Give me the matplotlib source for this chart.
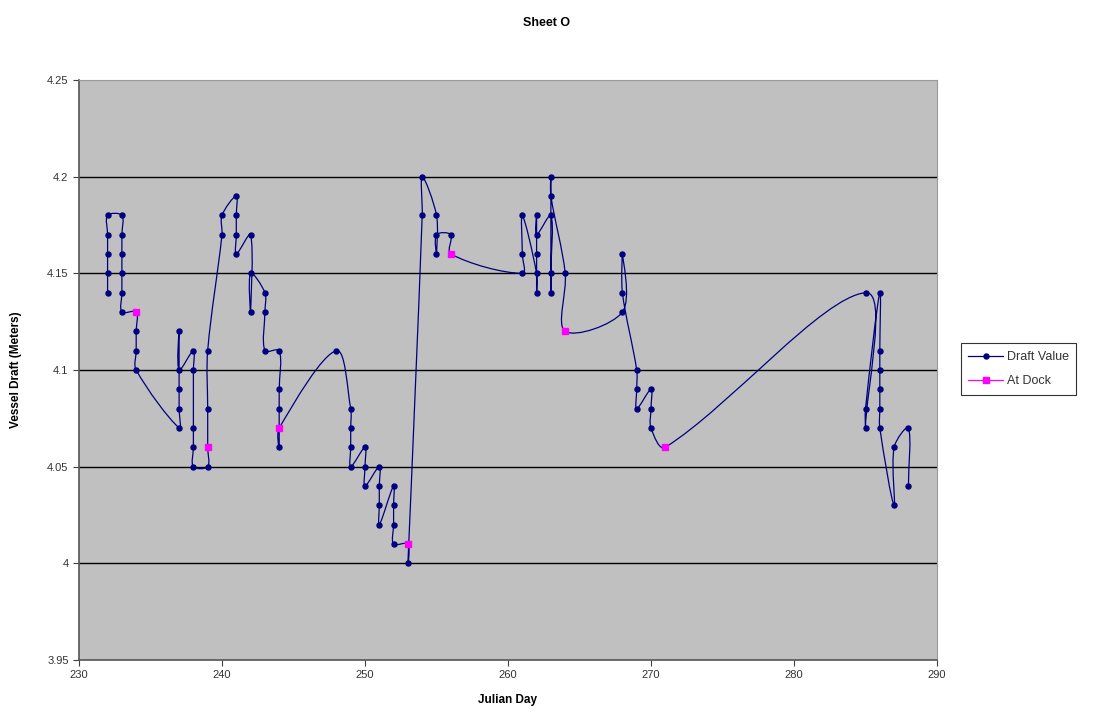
import numpy as np
import matplotlib
matplotlib.use('Agg')
import matplotlib.pyplot as plt
from matplotlib.path import Path
from matplotlib.patches import PathPatch
from matplotlib.lines import Line2D

plt.rcParams['font.family'] = ['Liberation Sans', 'DejaVu Sans']

# Draft readings in the order they were taken (Julian day, draft in metres)
draft_days = [232, 232, 232, 232, 232,
              233, 233, 233, 233, 233, 233,
              234, 234, 234, 234,
              237, 237, 237, 237, 237,
              238, 238, 238, 238, 238,
              239, 239, 239, 239,
              240, 240,
              241, 241, 241, 241,
              242, 242, 242,
              243, 243, 243,
              244, 244, 244, 244, 244,
              248,
              249, 249, 249, 249,
              250, 250, 250,
              251, 251, 251, 251,
              252, 252, 252, 252,
              253, 253,
              254, 254,
              255, 255, 255,
              256, 256,
              261, 261, 261,
              262, 262, 262, 262, 262,
              263, 263, 263, 263, 263,
              264, 264,
              268, 268, 268,
              269, 269, 269,
              270, 270, 270,
              271,
              285, 285, 285,
              286, 286, 286, 286, 286, 286,
              287, 287,
              288, 288]
draft_values = [4.14, 4.15, 4.16, 4.17, 4.18,
                4.18, 4.17, 4.16, 4.15, 4.14, 4.13,
                4.13, 4.12, 4.11, 4.10,
                4.07, 4.08, 4.09, 4.12, 4.10,
                4.11, 4.10, 4.07, 4.06, 4.05,
                4.05, 4.06, 4.08, 4.11,
                4.17, 4.18,
                4.19, 4.18, 4.17, 4.16,
                4.17, 4.13, 4.15,
                4.14, 4.13, 4.11,
                4.11, 4.09, 4.08, 4.06, 4.07,
                4.11,
                4.08, 4.07, 4.06, 4.05,
                4.06, 4.05, 4.04,
                4.05, 4.04, 4.03, 4.02,
                4.04, 4.03, 4.02, 4.01,
                4.01, 4.00,
                4.18, 4.20,
                4.18, 4.16, 4.17,
                4.17, 4.16,
                4.15, 4.16, 4.18,
                4.15, 4.14, 4.16, 4.18, 4.17,
                4.18, 4.15, 4.14, 4.20, 4.19,
                4.15, 4.12,
                4.13, 4.16, 4.14,
                4.10, 4.09, 4.08,
                4.09, 4.08, 4.07,
                4.06,
                4.14, 4.07, 4.08,
                4.14, 4.11, 4.10, 4.09, 4.08, 4.07,
                4.03, 4.06,
                4.07, 4.04]

# Readings taken while alongside
dock_days = [234, 239, 244, 253, 256, 264, 271]
dock_values = [4.13, 4.06, 4.07, 4.01, 4.16, 4.12, 4.06]

x_ticks = [230, 240, 250, 260, 270, 280, 290]
y_ticks = [3.95, 4.0, 4.05, 4.1, 4.15, 4.2, 4.25]
x_range = (230, 290)
y_range = (3.95, 4.25)

NAVY = '#000080'
MAGENTA = '#FF00FF'


def smooth_path(xs, ys, width_px, height_px, tension=1.0 / 3.0):
    """Smoothed line through every point: cubic Bezier segments whose
    tangents are scaled by neighbouring segment lengths (in pixel space),
    which keeps short vertical runs from overshooting."""
    sx = width_px / (x_range[1] - x_range[0])
    sy = height_px / (y_range[1] - y_range[0])
    pts = np.column_stack([np.asarray(xs, float) * sx, np.asarray(ys, float) * sy])
    n = len(pts)

    def dist(a, b):
        return max(np.hypot(*(pts[b] - pts[a])), 1e-9)

    verts = [pts[0]]
    codes = [Path.MOVETO]
    for i in range(n - 1):
        i0, i3 = max(i - 1, 0), min(i + 2, n - 1)
        p0, p1, p2, p3 = pts[i0], pts[i], pts[i + 1], pts[i3]
        d01, d12, d23 = dist(i0, i), dist(i, i + 1), dist(i + 1, i3)
        c1 = p1 + (p2 - p0) * tension * d12 / (d01 + d12) if i0 != i else p1 + (p2 - p1) * tension
        c2 = p2 - (p3 - p1) * tension * d12 / (d12 + d23) if i3 != i + 1 else p2 - (p2 - p1) * tension
        verts += [c1, c2, p2]
        codes += [Path.CURVE4] * 3
    verts = np.array(verts) / [sx, sy]
    return Path(verts, codes)


fig = plt.figure(figsize=(10.94, 7.24), dpi=100)
ax = fig.add_axes([0.0722, 0.0884, 0.7843, 0.8011])
ax.set_facecolor('#C0C0C0')

for y in y_ticks[1:-1]:
    ax.axhline(y, color='black', linewidth=1.0, zorder=1)

ax.add_patch(PathPatch(smooth_path(draft_days, draft_values, 858, 580),
                       facecolor='none', edgecolor=NAVY, linewidth=0.9, zorder=2))
ax.plot(draft_days, draft_values, linestyle='none', marker='o', markersize=3.6,
        color=NAVY, zorder=3)
ax.plot(dock_days, dock_values, linestyle='none', marker='s', markersize=4.5,
        color=MAGENTA, zorder=4)

ax.set_xlim(*x_range)
ax.set_ylim(*y_range)
ax.set_xticks(x_ticks)
ax.set_yticks(y_ticks)
ax.set_xticklabels([str(t) for t in x_ticks])
ax.set_yticklabels(['3.95', '4', '4.05', '4.1', '4.15', '4.2', '4.25'])
ax.tick_params(direction='out', length=4, width=0.8, colors='#404040',
               labelsize=8, labelcolor='#333333')

for side in ['left', 'bottom']:
    ax.spines[side].set_color('#555555')
    ax.spines[side].set_linewidth(1.2)
for side in ['top', 'right']:
    ax.spines[side].set_color('#9A9A9A')
    ax.spines[side].set_linewidth(0.8)

ax.set_xlabel('Julian Day', fontsize=8.5, fontweight='bold', labelpad=10)
ax.set_ylabel('Vessel Draft (Meters)', fontsize=8.5, fontweight='bold', labelpad=18)
fig.text(0.5, 0.968, 'Sheet O', ha='center', va='center', fontsize=9,
         fontweight='bold')

handles = [Line2D([], [], color=NAVY, linewidth=0.9, marker='o', markersize=3.6),
           Line2D([], [], color=MAGENTA, linewidth=0.9, marker='s', markersize=4.5)]
leg = fig.legend(handles, ['Draft Value', 'At Dock'], loc='center left',
                 bbox_to_anchor=(0.878, 0.49), fontsize=9, frameon=True,
                 fancybox=False, handlelength=2.8, borderpad=0.6,
                 labelspacing=1.0, handletextpad=0.3, borderaxespad=0)
leg.get_frame().set_edgecolor('black')
leg.get_frame().set_linewidth(0.8)
for t in leg.get_texts():
    t.set_color('#333333')

fig.savefig('out.png', dpi=100)
